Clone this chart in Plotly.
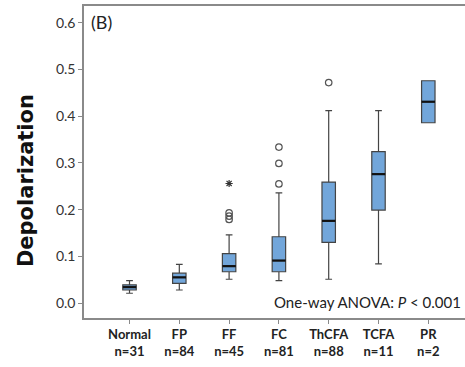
import plotly.graph_objects as go

categories = ["Normal", "FP", "FF", "FC", "ThCFA", "TCFA", "PR"]
counts = [31, 84, 45, 81, 88, 11, 2]
q1 = [0.028, 0.042, 0.067, 0.067, 0.130, 0.199, 0.386]
median = [0.034, 0.055, 0.079, 0.091, 0.176, 0.276, 0.431]
q3 = [0.039, 0.064, 0.106, 0.142, 0.259, 0.324, 0.476]
lower_whisker = [0.021, 0.028, 0.051, 0.048, 0.051, 0.084, 0.386]
upper_whisker = [0.048, 0.083, 0.146, 0.236, 0.412, 0.412, 0.476]
outlier_cat = [2, 2, 2, 3, 3, 3, 4]
outlier_val = [0.193, 0.186, 0.179, 0.255, 0.299, 0.334, 0.472]
extreme_cat = [2]
extreme_val = [0.256]
y_ticks = [0.0, 0.1, 0.2, 0.3, 0.4, 0.5, 0.6]

FONT = "Lato"
fill = "#72a6da"
edge = "#444444"
bw = 0.27

fig = go.Figure()
xs = list(range(len(categories)))
fig.add_trace(go.Box(
    x=xs, q1=q1, median=median, q3=q3,
    lowerfence=lower_whisker, upperfence=upper_whisker,
    width=bw, whiskerwidth=0.5,
    fillcolor=fill, line=dict(color=edge, width=1.2),
    boxpoints=False, showlegend=False, hoverinfo="skip",
))
# thick median lines
mx, my = [], []
for i, m in enumerate(median):
    mx += [i - bw / 2, i + bw / 2, None]
    my += [m, m, None]
fig.add_trace(go.Scatter(x=mx, y=my, mode="lines",
                         line=dict(color="#111111", width=2.2),
                         showlegend=False, hoverinfo="skip"))
fig.add_trace(go.Scatter(x=outlier_cat, y=outlier_val, mode="markers",
                         marker=dict(symbol="circle-open", size=6.5,
                                     color="#555555", line=dict(width=1.2)),
                         showlegend=False, hoverinfo="skip"))
fig.add_trace(go.Scatter(x=extreme_cat, y=extreme_val, mode="markers",
                         marker=dict(symbol="asterisk-open", size=6,
                                     color="#333333", line=dict(width=1.2)),
                         showlegend=False, hoverinfo="skip"))

ticktext = [f"<b>{c}<br>n={n}</b>" for c, n in zip(categories, counts)]

fig.update_layout(
    width=465, height=367,
    margin=dict(l=84, r=0, t=6, b=49),
    paper_bgcolor="white", plot_bgcolor="white",
    font=dict(family=FONT, color="#333333"),
    xaxis=dict(
        range=[-0.914, 6.737], tickmode="array", tickvals=xs, ticktext=ticktext,
        showgrid=False, zeroline=False, showline=True, linecolor="#8a8a8a",
        linewidth=1.5, mirror=True, ticks="outside", ticklen=4,
        tickcolor="#8a8a8a", tickfont=dict(size=13, color="#222222"),
    ),
    yaxis=dict(
        range=[-0.032, 0.636], tickvals=y_ticks,
        ticktext=[f"{v:.1f}" for v in y_ticks],
        showgrid=False, zeroline=False, showline=True, linecolor="#8a8a8a",
        linewidth=1.5, ticks="outside", ticklen=4, tickcolor="#8a8a8a",
        tickfont=dict(size=14, color="#333333"),
    ),
    annotations=[
        dict(text="<b>Depolarization</b>", xref="paper", yref="paper",
             x=-0.152, y=0.439, xanchor="center", yanchor="middle",
             textangle=-90, showarrow=False,
             font=dict(family="DejaVu Sans", size=21, color="#111111")),
        dict(text="(B)", xref="paper", yref="paper", x=0.014, y=0.949,
             xanchor="left", yanchor="middle", showarrow=False,
             font=dict(size=18, color="#222222")),
        dict(text="One-way ANOVA: <i>P</i> < 0.001", xref="paper", yref="paper",
             x=0.995, y=0.015, xanchor="right", yanchor="bottom", showarrow=False,
             font=dict(size=15, color="#222222")),
    ],
)

fig.write_html("out.html")
